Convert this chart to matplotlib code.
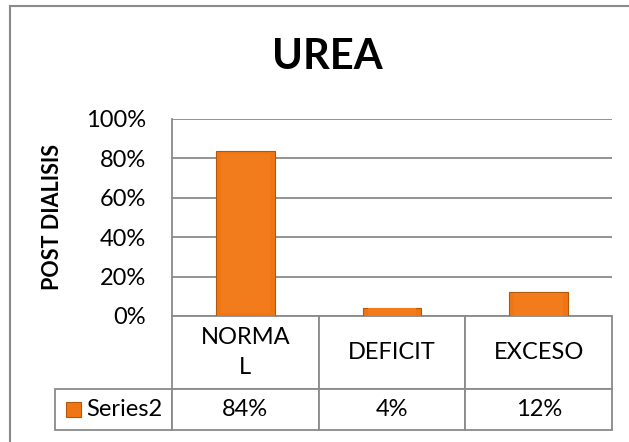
import matplotlib.pyplot as plt
from matplotlib.patches import Rectangle
import numpy as np

categories = ['NORMA\nL', 'DEFICIT', 'EXCESO']
values = [0.84, 0.04, 0.12]
value_labels = ['84%', '4%', '12%']
series_name = 'Series2'
y_ticks = [0, 0.2, 0.4, 0.6, 0.8, 1.0]
y_tick_labels = ['0%', '20%', '40%', '60%', '80%', '100%']

plt.rcParams['font.family'] = ['Lato', 'DejaVu Sans']

W, H = 629, 442
fig = plt.figure(figsize=(W / 100, H / 100), dpi=100)

grid_col = '#8a8a8a'
bar_col = '#F07614'
bar_edge = '#B3570B'

# outer chart border (right and bottom run off the picture)
fig.patches.append(Rectangle((10 / W, -0.05), 1.2, 1 - 6 / H + 0.05,
                             transform=fig.transFigure, fill=False,
                             edgecolor=grid_col, linewidth=1.5))

# plot area (pixels: x 172..612, y 119..316)
AX_W, AX_H = 440, 197
ax = fig.add_axes([172 / W, 1 - 316 / H, AX_W / W, AX_H / H])
x = np.arange(len(categories))
ax.bar(x, values, width=0.4, color=bar_col, edgecolor=bar_edge, linewidth=0.8, zorder=3)
# light inner bevel
ax.bar(x, np.array(values) * 0.96, bottom=np.array(values) * 0.02, width=0.33,
       color='#F27C1C', linewidth=0, zorder=3)

ax.set_xlim(-0.5, len(categories) - 0.5)
ax.set_ylim(0, 1.0)
ax.set_yticks(y_ticks)
ax.set_yticklabels(y_tick_labels, fontsize=17)
ax.set_xticks([])
ax.tick_params(axis='y', length=0, pad=18.5)
for s in ['top', 'right', 'bottom']:
    ax.spines[s].set_visible(False)
ax.spines['left'].set_color(grid_col)
ax.spines['left'].set_linewidth(1.3)
ax.yaxis.grid(True, color=grid_col, linewidth=1.3, zorder=0)
ax.set_axisbelow(True)

ax.set_ylabel('POST DIALISIS', fontsize=15.5, fontweight='bold')
ax.yaxis.set_label_coords((63 - 172) / AX_W, 0.5)

fig.text(327 / W, 1 - 57 / H, 'UREA', fontsize=30, fontweight='bold',
         ha='center', va='center')

# data table under the axis; bbox covers the grid only (row label sits left of it)
tab = ax.table(cellText=[value_labels], rowLabels=[series_name],
               colLabels=categories, cellLoc='center', rowLoc='left',
               bbox=[0, -114 / AX_H, 1, 114 / AX_H])
tab.auto_set_font_size(False)
tab.set_fontsize(17)
for (r, c), cell in tab.get_celld().items():
    cell.set_edgecolor(grid_col)
    cell.set_linewidth(1.3)
    cell.set_width((116 if c == -1 else AX_W / 3) / AX_W)
    cell.set_height((73 if r == 0 else 41) / AX_H)
    cell.get_text().set_linespacing(1.5)
    if c == -1:
        cell.PAD = 0.27

# legend key in the row label cell
ax.add_patch(Rectangle(((66 - 172) / AX_W, (316 - 417) / AX_H), 15 / AX_W, 15 / AX_H,
                       transform=ax.transAxes, clip_on=False,
                       facecolor=bar_col, edgecolor=bar_edge, linewidth=0.8))

fig.savefig('out.png', dpi=100)
